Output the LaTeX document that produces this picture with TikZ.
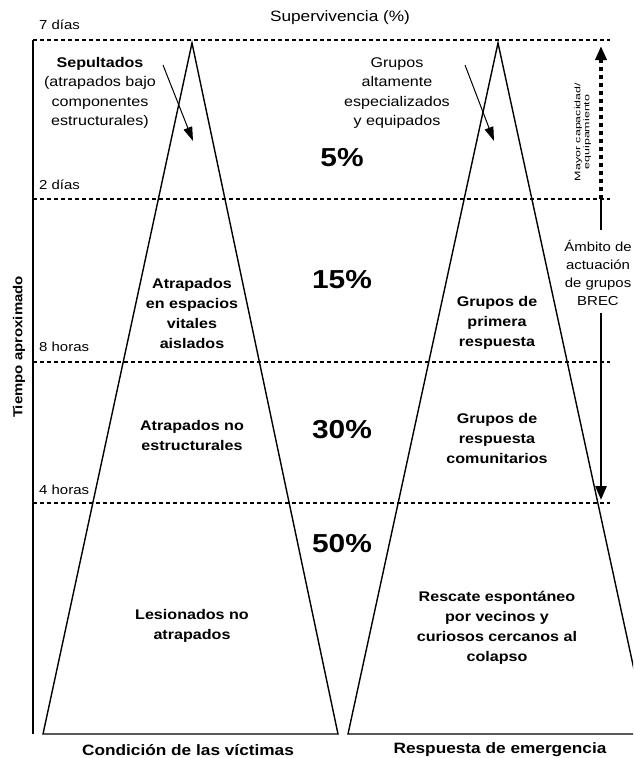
\documentclass[tikz,border=0pt]{standalone}
\usepackage{fontspec}
\setmainfont{Liberation Sans}[FakeStretch=1.15]
\usetikzlibrary{arrows.meta}
\newcommand{\fsz}[2]{\fontsize{#1}{#2}\selectfont}
\begin{document}
\begin{tikzpicture}[x=1pt,y=-1pt,
  tri/.style={line width=1.4pt, line join=miter},
  dline/.style={line width=1.4pt, dash pattern=on 4pt off 3pt},
  axis/.style={line width=1.7pt},
  body/.style={font=\fsz{14}{20}\bfseries, align=center, inner sep=0pt},
  plaintext/.style={font=\fsz{14}{19.5}, align=center, inner sep=0pt},
  ticklabel/.style={font=\fsz{13}{15}, anchor=west, inner sep=0pt},
  pct/.style={font=\fsz{26}{30}\bfseries, inner sep=0pt},
  foot/.style={font=\fsz{15}{18}\bfseries, inner sep=0pt},
  pointer/.style={line width=1pt, -{Triangle[length=14pt,width=9pt]}},
  bigline/.style={line width=2.8pt},
  bighead/.style={-{Triangle[length=14pt,width=11pt]}}
]
\path[use as bounding box] (0,0) rectangle (633,758);
\clip (0,0) rectangle (633,758);

% time lines
\coordinate (L7) at (33,40);  \coordinate (R7) at (610,40);
\coordinate (L2) at (33,199); \coordinate (R2) at (610,199);
\coordinate (L8) at (33,362); \coordinate (R8) at (610,362);
\coordinate (L4) at (33,503); \coordinate (R4) at (610,503);
\draw[dline] (L7) -- (R7);
\draw[dline] (L2) -- (R2);
\draw[dline] (L8) -- (R8);
\draw[dline] (L4) -- (R4);

% axis
\coordinate (axTop) at (33,40); \coordinate (axBot) at (33,734);
\draw[axis] (axTop) -- (axBot);

% triangles
\coordinate (t1a) at (43,734); \coordinate (t1b) at (192,43); \coordinate (t1c) at (338,734);
\coordinate (t2a) at (348,734); \coordinate (t2b) at (498,43); \coordinate (t2c) at (648,734);
\draw[tri] (t1a) -- (t1b) -- (t1c) -- cycle;
\draw[tri] (t2a) -- (t2b) -- (t2c) -- cycle;

% titles and tick labels
\node[font=\fsz{15}{18}, inner sep=0pt] (surv) at (340,18) {Supervivencia (\%)};
\node[ticklabel] (d7) at (39,25) {7 días};
\node[ticklabel] (d2) at (39,185) {2 días};
\node[ticklabel] (h8) at (39,347) {8 horas};
\node[ticklabel] (h4) at (39,490) {4 horas};
\node[font=\fsz{13}{15}\bfseries, rotate=90, inner sep=0pt] (tiempo) at (19,347) {Tiempo aproximado};

% top texts with pointers
\node[plaintext] (sep) at (100,93) {\textbf{Sepultados}\\(atrapados bajo\\componentes\\estructurales)};
\coordinate (sepA) at (163,65); \coordinate (sepB) at (193,141);
\draw[pointer] (sepA) -- (sepB);
\node[plaintext] (alt) at (397,93) {Grupos\\altamente\\especializados\\y equipados};
\coordinate (altA) at (465,65); \coordinate (altB) at (494,141);
\draw[pointer] (altA) -- (altB);

% percentages
\node[pct] (p5) at (342,158) {5\%};
\node[pct] (p15) at (342,280) {15\%};
\node[pct] (p30) at (342,430) {30\%};
\node[pct] (p50) at (342,544) {50\%};

% left triangle texts
\node[body] (v1) at (192,313) {Atrapados\\en espacios\\vitales\\aislados};
\node[body] (v2) at (192,435) {Atrapados no\\estructurales};
\node[body] (v3) at (192,626) {Lesionados no\\atrapados};

% right triangle texts
\node[body] (r1) at (497,323) {Grupos de\\primera\\respuesta};
\node[body] (r2) at (497,438) {Grupos de\\respuesta\\comunitarios};
\node[body] (r3) at (497,628) {Rescate espontáneo\\por vecinos y\\curiosos cercanos al\\colapso};

% footers
\node[foot] (fl) at (188,750) {Condición de las víctimas};
\node[foot] (fr) at (500,750) {Respuesta de emergencia};

% right side scale
\node[font=\fsz{8}{9}, rotate=90, inner sep=0pt] (mayor) at (583,132)
  {\scalebox{1.35}[1]{\begin{tabular}{@{}c@{}}Mayor capacidad/\\equipamiento\end{tabular}}};
\node[font=\fsz{13}{18}, align=center, inner sep=0pt] (brec) at (598,273) {Ámbito de\\actuación\\de grupos\\BREC};
\coordinate (bA) at (601,199); \coordinate (bTop) at (601,46);
\coordinate (brecTop) at (601,230); \coordinate (brecBot) at (601,313);
\coordinate (bBot) at (601,500);
\draw[line width=3.6pt, dash pattern=on 4pt off 4pt, bighead] (bA) -- (bTop);
\draw[bigline] (bA) -- (brecTop);
\draw[bigline, bighead] (brecBot) -- (bBot);
\end{tikzpicture}
\end{document}
